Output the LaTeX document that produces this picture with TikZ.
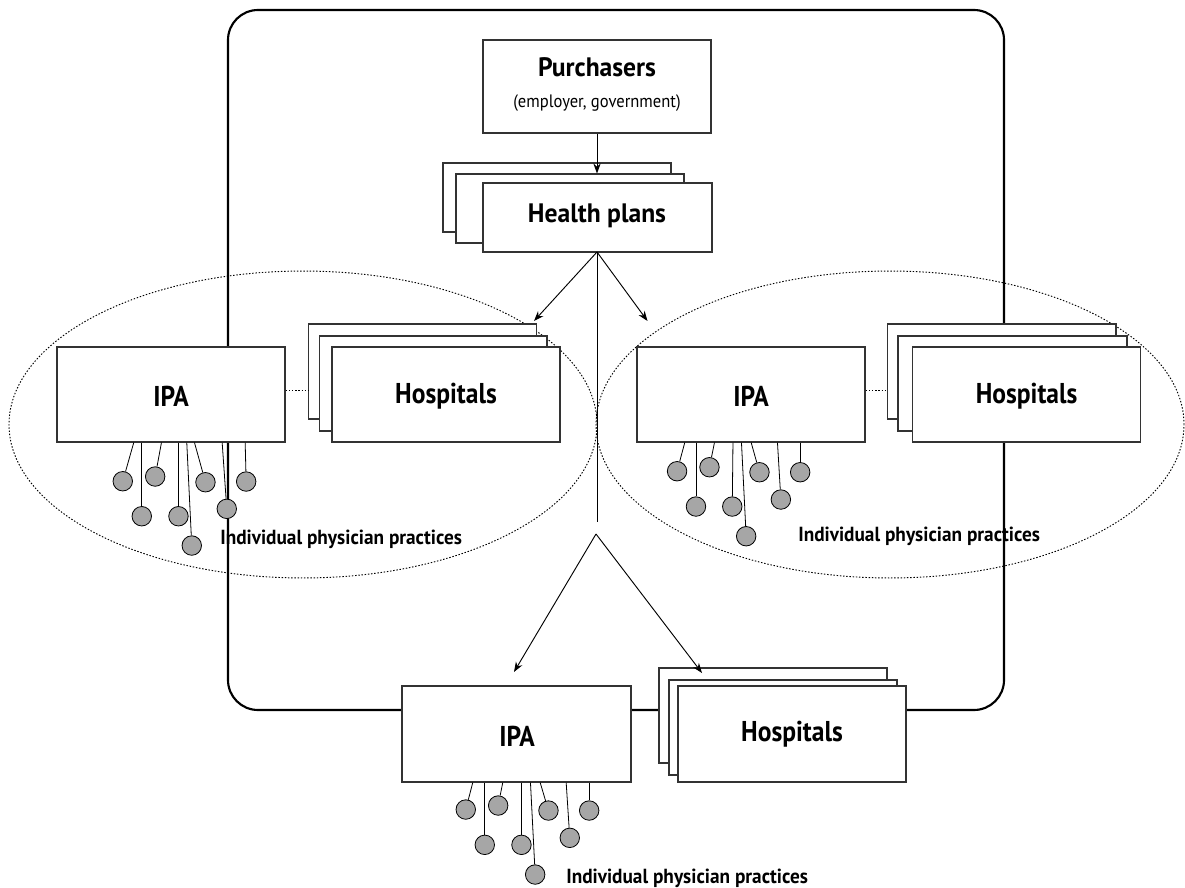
\documentclass[tikz,border=0pt]{standalone}
\usepackage{fontspec}
\setmainfont[FakeStretch=0.84]{PT Sans}
\newfontfamily\bigfont[FakeStretch=0.89]{PT Sans}
\newfontfamily\headfont[FakeStretch=0.96]{PT Sans}
\newfontfamily\subfont[FakeStretch=0.92]{PT Sans}
\newfontfamily\ippfont[FakeStretch=0.945]{PT Sans}
\usetikzlibrary{fit,arrows.meta,calc}
\begin{document}
\begin{tikzpicture}[x=0.75pt,y=-0.75pt,
  box/.style={draw=black!80,line width=0.8pt,fill=white,inner sep=0pt},
  frame/.style={line width=1.6pt,rounded corners=22.5pt},
  region/.style={line width=0.7pt,dash pattern=on 1.1pt off 1.3pt},
  link/.style={line width=0.7pt,dash pattern=on 1.1pt off 1.3pt},
  conn/.style={line width=0.7pt,-{Stealth[length=7.5pt,width=5.5pt]}},
  stem/.style={line width=0.6pt},
  dot/.style={circle,draw=black,line width=0.6pt,fill=black!35,minimum size=14.6pt,inner sep=0pt},
  bigtxt/.style={font=\bigfont\fontsize{21.5pt}{24pt}\selectfont\bfseries,inner sep=0pt,anchor=base},
  midtxt/.style={font=\headfont\fontsize{20pt}{22pt}\selectfont\bfseries,inner sep=0pt,anchor=base},
  subtxt/.style={font=\subfont\fontsize{13.5pt}{15pt}\selectfont,inner sep=0pt,anchor=base},
  ipptxt/.style={font=\ippfont\fontsize{15.3pt}{17pt}\selectfont\bfseries,inner sep=0pt,anchor=base west}]
\useasboundingbox (0,0) rectangle (1185,888);

% outer frame
\draw[frame] (228,10) rectangle (1004,710);

% dotted regions
\draw[region] (303,424.5) ellipse [x radius=220.5pt, y radius=115.1pt];
\draw[region] (890,424.5) ellipse [x radius=220.5pt, y radius=115.1pt];

% purchasers
\node[box,fit={(483,40)(711,133)}] (purch) {};
\node[midtxt] at (597,77) {Purchasers};
\node[subtxt] at (597,108) {(employer, government)};

% health plans stack
\node[box,fit={(443,163)(671,232)}] (hp3) {};
\node[box,fit={(456,174)(684,243)}] (hp2) {};
\node[box,fit={(483,183)(712,252)}] (hp1) {};
\node[midtxt] at (597,222.7) {Health plans};

% left group
\node[box,fit={(57,347)(285,442)}] (ipaL) {};
\node[bigtxt] at (171,406) {IPA};
\node[box,fit={(308.5,324)(536.5,419)}] (hospL3) {};
\node[box,fit={(319.6,336)(547,431)}] (hospL2) {};
\node[box,fit={(332,347)(560,442)}] (hospL1) {};
\node[bigtxt] at (446,403) {Hospitals};

% right group
\node[box,fit={(637,347)(865,442)}] (ipaR) {};
\node[bigtxt] at (751,406.5) {IPA};
\node[box,fit={(887.5,324)(1116,419)}] (hospR3) {};
\node[box,fit={(898,336)(1127,431)}] (hospR2) {};
\node[box,fit={(912.6,347)(1140.6,442)}] (hospR1) {};
\node[bigtxt] at (1026.6,403) {Hospitals};

% bottom group
\node[box,fit={(402,686)(631,782)}] (ipaB) {};
\node[bigtxt] at (517,746) {IPA};
\node[box,fit={(659,668)(887,763)}] (hospB3) {};
\node[box,fit={(669,680)(897,775)}] (hospB2) {};
\node[box,fit={(678,686)(906,782)}] (hospB1) {};
\node[bigtxt] at (792,741.7) {Hospitals};

% dotted links IPA - hospitals
\draw[link] ([yshift=3pt]ipaL.east) -- ([yshift=3pt]ipaL.east -| hospL3.west);
\draw[link] ([yshift=3pt]ipaR.east) -- ([yshift=3pt]ipaR.east -| hospR3.west);

% connectors
\coordinate (hpfork) at (597,252);
\coordinate (trunkend) at (597,522);
\coordinate (apex) at (596,534);
\coordinate (tipL) at (534,321);
\coordinate (tipR) at (647.5,321);
\coordinate (tipBL) at (514,672);
\coordinate (tipBR) at (702,673);
\draw[conn] (purch.south) -- (purch.south |- hp2.north);
\draw[stem,line width=0.7pt] (hpfork) -- (trunkend);
\draw[conn] (hpfork) -- (tipL);
\draw[conn] (hpfork) -- (tipR);
\draw[conn] (apex) -- (tipBL);
\draw[conn] (apex) -- (tipBR);

% physician practices
\foreach \tx/\cx/\cy [count=\i] in {77.3/66.3/38.7, 85.3/85.3/73.7, 105/98.7/34, 122/122/73.7, 130.3/135.3/103, 138/149/39.7, 165.7/170.3/66.3, 188.7/189.7/39}{
  \coordinate (ipaLt\i) at ($(ipaL.south west)+(\tx,0)$);
  \node[dot] (ipaLd\i) at ($(ipaL.south west)+(\cx,\cy)$) {};
  \draw[stem] (ipaLt\i) -- (ipaLd\i);
}
\foreach \tx/\cx/\cy [count=\i] in {48.3/40.6/28.7, 59.5/59.5/64, 78/73/24.7, 96.5/95.8/64, 105/109.7/93.7, 114.7/123/29.7, 141/144.4/57, 163.7/163.7/29.7}{
  \coordinate (ipaRt\i) at ($(ipaR.south west)+(\tx,0)$);
  \node[dot] (ipaRd\i) at ($(ipaR.south west)+(\cx,\cy)$) {};
  \draw[stem] (ipaRt\i) -- (ipaRd\i);
}
\foreach \tx/\cx/\cy [count=\i] in {71.3/64.3/27, 83.3/83.3/62.3, 101.3/96.7/23, 120/120/62.3, 129/133.7/92, 138.7/147/28, 164.7/168.3/55.3, 187.7/187.7/28}{
  \coordinate (ipaBt\i) at ($(ipaB.south west)+(\tx,0)$);
  \node[dot] (ipaBd\i) at ($(ipaB.south west)+(\cx,\cy)$) {};
  \draw[stem] (ipaBt\i) -- (ipaBd\i);
}
\node[ipptxt] at (220,544.3) {Individual physician practices};
\node[ipptxt] at (798,541.7) {Individual physician practices};
\node[ipptxt] at (566,883.3) {Individual physician practices};
\end{tikzpicture}
\end{document}
